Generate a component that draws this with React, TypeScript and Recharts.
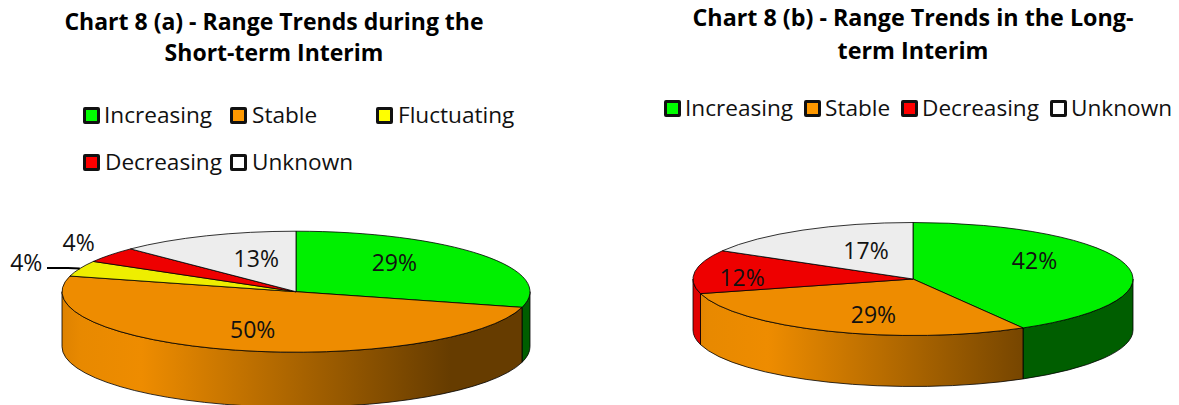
import React from "react";
import { PieChart, Pie, Legend } from "recharts";

const categoriesA = ["Increasing", "Stable", "Fluctuating", "Decreasing", "Unknown"];
const valuesA = [7, 12, 1, 1, 3];
const labelsA = ["29%", "50%", "4%", "4%", "13%"];
const categoriesB = ["Increasing", "Stable", "Decreasing", "Unknown"];
const valuesB = [10, 7, 3, 4];
const labelsB = ["42%", "29%", "12%", "17%"];
const titleA = ["Chart 8 (a) - Range Trends during the", "Short-term Interim"];
const titleB = ["Chart 8 (b) - Range Trends in the Long-", "term Interim"];

const topColor: Record<string, string> = {
  Increasing: "#00F000", Stable: "#EE8C00", Fluctuating: "#EEEE00", Decreasing: "#EE0000", Unknown: "#EDEDED",
};
const wallColor: Record<string, string> = {
  Increasing: "#005E00", Stable: "url(#GID)", Fluctuating: "#8C8C00", Decreasing: "#E00000", Unknown: "#8C8C8C",
};
const legendColor: Record<string, string> = {
  Increasing: "#00FF00", Stable: "#FF9900", Fluctuating: "#FFFF00", Decreasing: "#FF0000", Unknown: "#FFFFFF",
};

const FONT = "'Open Sans', sans-serif";
const TEXT = "#111";

type Layout = {
  id: string; left: number; width: number; cx: number; cy: number; rx: number; ry: number; depth: number;
  title: string[]; titleX: number; titleY: number[]; titleSize: number;
  slots: { mx: number; tx: number; y: number }[];
  nudges: number[][]; leader: Record<number, number[][]>;
};

const layoutA: Layout = {
  id: "a", left: 0, width: 590, cx: 296, cy: 291.7, rx: 234, ry: 60.5, depth: 55,
  title: titleA, titleX: 274, titleY: [20.5, 52], titleSize: 23,
  slots: [{ mx: 83, tx: 104, y: 115.5 }, { mx: 230, tx: 252, y: 115.5 }, { mx: 376, tx: 398, y: 115.5 }, { mx: 83, tx: 105, y: 162.5 }, { mx: 230, tx: 252, y: 162.5 }],
  nudges: [[-13, -7.5], [-7, 2], [-140, -16], [-106, -28], [14, 0]],
  leader: { 2: [[47, 268], [68, 268]] },
};
const layoutB: Layout = {
  id: "b", left: 590, width: 589, cx: 323, cy: 279, rx: 220, ry: 56.5, depth: 51,
  title: titleB, titleX: 323, titleY: [17, 50], titleSize: 23.3,
  slots: [{ mx: 74, tx: 95, y: 108.5 }, { mx: 214, tx: 235, y: 108.5 }, { mx: 311, tx: 332, y: 108.5 }, { mx: 460, tx: 481, y: 108.5 }],
  nudges: [[-6, -10], [11, 4], [-40, 2], [19, 0]],
  leader: {},
};

const RAD = Math.PI / 180;
const project = (L: Layout, deg: number, f = 1) => [
  L.cx + L.rx * f * Math.cos(deg * RAD),
  L.cy - L.ry * f * Math.sin(deg * RAD),
];

const topShape = (L: Layout) => (p: any) => {
  const [sx, sy] = project(L, p.startAngle);
  const [ex, ey] = project(L, p.endAngle);
  const large = Math.abs(p.startAngle - p.endAngle) > 180 ? 1 : 0;
  return (
    <path
      d={`M${L.cx},${L.cy}L${sx},${sy}A${L.rx},${L.ry} 0 ${large} 1 ${ex},${ey}Z`}
      fill={topColor[p.name]} stroke="#000" strokeWidth={0.8} strokeLinejoin="round"
    />
  );
};

const wallShape = (L: Layout) => (p: any) => {
  const hi = Math.min(Math.max(p.startAngle, p.endAngle), 0);
  const lo = Math.max(Math.min(p.startAngle, p.endAngle), -180);
  if (hi <= lo) return <g />;
  const [sx, sy] = project(L, hi);
  const [ex, ey] = project(L, lo);
  const d = L.depth;
  return (
    <path
      d={`M${sx},${sy}A${L.rx},${L.ry} 0 0 1 ${ex},${ey}L${ex},${ey + d}A${L.rx},${L.ry} 0 0 0 ${sx},${sy + d}Z`}
      fill={wallColor[p.name].replace("GID", `wall-${L.id}`)} stroke="#000" strokeWidth={0.8} strokeLinejoin="round"
    />
  );
};

const labelFor = (L: Layout, labels: string[]) => (p: any) => {
  const [nx, ny] = L.nudges[p.index];
  const [x, y] = project(L, p.midAngle, 0.6);
  const lead = L.leader[p.index];
  const [ox, oy] = project(L, p.midAngle);
  return (
    <g>
      {lead && (
        <path
          d={`M${lead.map((q) => q.join(",")).join("L")}L${ox},${oy}`}
          fill="none" stroke="#000" strokeWidth={2}
        />
      )}
      <text x={x + nx} y={y + ny} textAnchor="middle" dominantBaseline="central" fontFamily={FONT} fontSize={23} fill={TEXT}>
        {labels[p.index]}
      </text>
    </g>
  );
};

const legendFor = (L: Layout, cats: string[]) => () => (
  <div style={{ position: "relative", width: L.width, height: 405, fontFamily: FONT, fontSize: 22.6, color: TEXT }}>
    {cats.map((name, i) => {
      const s = L.slots[i];
      return (
        <React.Fragment key={name}>
          <div style={{
            position: "absolute", left: s.mx, top: s.y - 8.5, width: 11, height: 11, boxSizing: "content-box",
            border: "3px solid #111", borderRadius: 2, background: legendColor[name],
          }} />
          <div style={{ position: "absolute", left: s.tx, top: s.y - 16, lineHeight: "32px", height: 32, whiteSpace: "nowrap", marginTop: -1 }}>
            {name}
          </div>
        </React.Fragment>
      );
    })}
  </div>
);

function Block({ L, cats, vals, labels }: { L: Layout; cats: string[]; vals: number[]; labels: string[] }) {
  const rows = cats.map((name, i) => ({ name, value: vals[i], fill: topColor[name] }));
  const x0 = L.cx - L.rx;
  return (
    <div style={{ position: "absolute", left: L.left, top: 0 }}>
      <PieChart width={L.width} height={405} margin={{ top: 0, right: 0, bottom: 0, left: 0 }}>
        <defs>
          <linearGradient id={`wall-${L.id}`} gradientUnits="userSpaceOnUse" x1={x0} x2={x0 + 2 * L.rx} y1={0} y2={0}>
            <stop offset="0" stopColor="#DE8200" />
            <stop offset="0.04" stopColor="#E88900" />
            <stop offset="0.17" stopColor="#EE8C00" />
            <stop offset="0.83" stopColor="#663C00" />
            <stop offset="1" stopColor="#663C00" />
          </linearGradient>
        </defs>
        {L.title.map((t, i) => (
          <text key={t} x={L.titleX} y={L.titleY[i]} textAnchor="middle" dominantBaseline="central" fontFamily={FONT} fontWeight={700} fontSize={L.titleSize} fill="#000">
            {t}
          </text>
        ))}
        <Pie
          data={rows} dataKey="value" nameKey="name" cx={L.cx} cy={L.cy} outerRadius={L.rx}
          startAngle={90} endAngle={-270} isAnimationActive={false} legendType="none"
          shape={wallShape(L)} label={false} labelLine={false}
        />
        <Pie
          data={rows} dataKey="value" nameKey="name" cx={L.cx} cy={L.cy} outerRadius={L.rx}
          startAngle={90} endAngle={-270} isAnimationActive={false} legendType="square"
          shape={topShape(L)} label={labelFor(L, labels)} labelLine={false}
        />
        <Legend
          content={legendFor(L, cats)}
          wrapperStyle={{ position: "absolute", left: 0, top: 0, width: L.width, height: 405, pointerEvents: "none" }}
        />
      </PieChart>
    </div>
  );
}

export default function App() {
  return (
    <div style={{ position: "absolute", left: 0, top: 0, width: 1179, height: 405, overflow: "hidden", background: "#fff" }}>
      <Block L={layoutA} cats={categoriesA} vals={valuesA} labels={labelsA} />
      <Block L={layoutB} cats={categoriesB} vals={valuesB} labels={labelsB} />
    </div>
  );
}
